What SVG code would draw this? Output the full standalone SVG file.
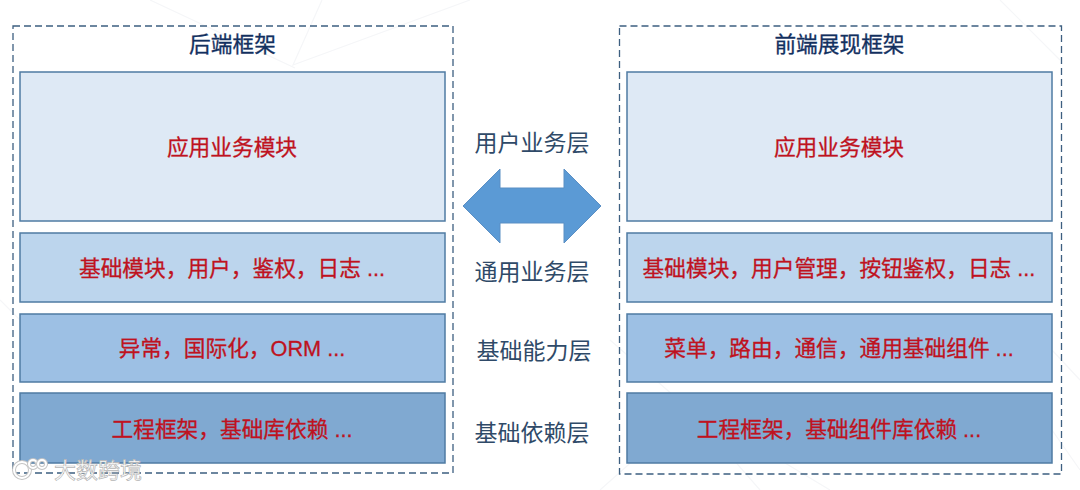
<svg xmlns="http://www.w3.org/2000/svg" width="1080" height="490" viewBox="0 0 1080 490">
<style>
text{font-family:"Liberation Sans","Noto Sans CJK SC",sans-serif;text-anchor:middle}
.frame{fill:none;stroke:#3d5f80;stroke-width:1.3;stroke-dasharray:7 4}
.box{stroke:#4f7ba3;stroke-width:1.5}
.l1{fill:#dee9f5}.l2{fill:#bcd5ed}.l3{fill:#9dc0e4}.l4{fill:#80a9d1}
.t{fill:#bf1220;font-size:21.7px;stroke:#bf1220;stroke-width:.3}
.title{fill:#12305f;font-size:21.7px;stroke:#12305f;stroke-width:.3}
.mid{fill:#2f4a68;font-size:23px}
.bg{fill:none;stroke:#f5f6f8;stroke-width:1.2}
.wm{fill:#fff;font-size:22px;stroke:#b5b5b5;stroke-width:.7;text-anchor:start}
.ic{fill:none;stroke:#c4c4c4;stroke-width:4}
.ic2{fill:none;stroke:#fff;stroke-width:2}
</style>
<rect width="1080" height="490" fill="#fff"/>
<g id="background-lines">
<path class="bg" d="M150 0L295 68M322 0L293 65L470 0M0 300L20 320M1000 0L1060 60M600 490L690 410L760 490M690 410L610 340M1052 350L1080 380M780 460L830 490M1052 430L1080 470"/>
</g>
<g id="backend">
<rect class="frame" x="13" y="26" width="440" height="447"/>
<text class="title" x="232.500" y="52">后端框架</text>
</g>
<g id="backend-app"><rect class="box l1" x="20" y="72" width="425" height="149"/><text class="t" x="232" y="155">应用业务模块</text></g>
<g id="backend-common"><rect class="box l2" x="20" y="233" width="425" height="69"/><text class="t" x="232" y="276">基础模块，用户，鉴权，日志 ...</text></g>
<g id="backend-base"><rect class="box l3" x="20" y="314" width="425" height="68"/><text class="t" x="232" y="356">异常，国际化，ORM ...</text></g>
<g id="backend-deps"><rect class="box l4" x="20" y="393" width="425" height="70"/><text class="t" x="232" y="437">工程框架，基础库依赖 ...</text></g>
<g id="frontend">
<rect class="frame" x="619.500" y="26" width="442" height="448"/>
<text class="title" x="839.500" y="52">前端展现框架</text>
</g>
<g id="frontend-app"><rect class="box l1" x="627" y="72" width="425" height="149"/><text class="t" x="839" y="155">应用业务模块</text></g>
<g id="frontend-common"><rect class="box l2" x="627" y="233" width="425" height="69"/><text class="t" x="839" y="276">基础模块，用户管理，按钮鉴权，日志 ...</text></g>
<g id="frontend-base"><rect class="box l3" x="627" y="314" width="425" height="68"/><text class="t" x="839" y="356">菜单，路由，通信，通用基础组件 ...</text></g>
<g id="frontend-deps"><rect class="box l4" x="627" y="393" width="425" height="70"/><text class="t" x="839" y="437">工程框架，基础组件库依赖 ...</text></g>
<g id="layer-user"><text class="mid" x="532" y="151">用户业务层</text></g>
<g id="layer-common"><text class="mid" x="532" y="280">通用业务层</text></g>
<g id="layer-base"><text class="mid" x="534" y="359">基础能力层</text></g>
<g id="layer-deps"><text class="mid" x="532" y="441">基础依赖层</text></g>
<g id="connectors">
<polygon points="463,206 500,169 500,188 564,188 564,169 601,206 564,243 564,223 500,223 500,243" fill="#5b9ad5" stroke="#5b8fc4" stroke-width="1"/>
</g>
<g id="watermark">
<circle class="ic" cx="22" cy="470" r="8"/><circle class="ic2" cx="22" cy="470" r="8"/>
<circle class="ic" cx="33" cy="464" r="4"/><circle class="ic2" cx="33" cy="464" r="4"/>
<circle class="ic" cx="42" cy="464" r="4"/><circle class="ic2" cx="42" cy="464" r="4"/>
<text class="wm" x="54" y="478">大数跨境</text>
</g>
</svg>
